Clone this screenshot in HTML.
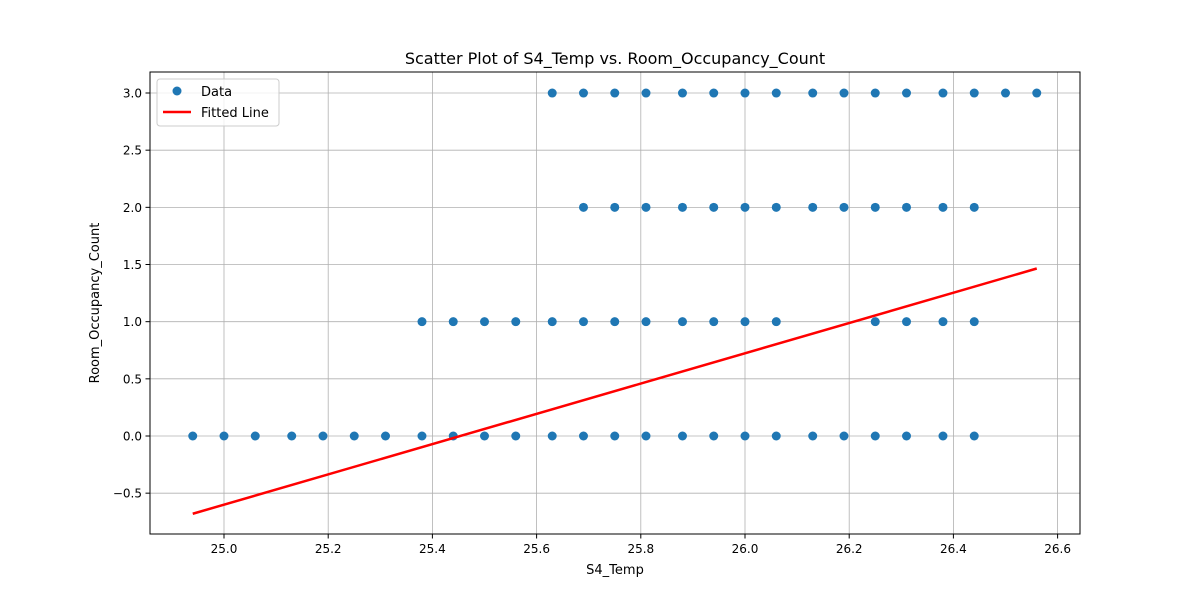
<!DOCTYPE html>
<html><head><meta charset="utf-8"><style>
body{margin:0;background:#fff;font-family:"Liberation Sans","DejaVu Sans",sans-serif}
svg text{font-family:"DejaVu Sans","Liberation Sans",sans-serif;fill:#000}
</style></head><body>
<svg id="chart" width="1200" height="600">
<rect x="0" y="0" width="1200" height="600" fill="#fff"/>
<g id="grid"></g>
<g id="marks"></g>
<g id="fit"></g>
<rect x="150" y="72" width="930" height="462" fill="none" stroke="#000" stroke-width="1"/>
<g id="ticks"></g>
<text x="615" y="64" text-anchor="middle" font-size="16">Scatter Plot of S4_Temp vs. Room_Occupancy_Count</text>
<text x="615" y="574" text-anchor="middle" font-size="13">S4_Temp</text>
<text x="99" y="303" text-anchor="middle" font-size="13" transform="rotate(-90 99 303)">Room_Occupancy_Count</text>
<g>
<rect x="157" y="79" width="122" height="47" rx="3" fill="#fff" fill-opacity="0.8" stroke="#ccc"/>
<circle cx="177" cy="91" r="4.5" fill="#1f77b4"/>
<text x="201" y="96" font-size="13">Data</text>
<line x1="163" y1="112" x2="191" y2="112" stroke="red" stroke-width="2.5"/>
<text x="201" y="117" font-size="13">Fitted Line</text>
</g>
</svg>
<script>
const xTicks=[25.0,25.2,25.4,25.6,25.8,26.0,26.2,26.4,26.6];
const xTickLabels=["25.0","25.2","25.4","25.6","25.8","26.0","26.2","26.4","26.6"];
const yTicks=[-0.5,0,0.5,1,1.5,2,2.5,3];
const yTickLabels=["−0.5","0.0","0.5","1.0","1.5","2.0","2.5","3.0"];
const row3X=[25.63,25.69,25.75,25.81,25.88,25.94,26.00,26.06,26.13,26.19,26.25,26.31,26.38,26.44,26.50,26.56];
const row2X=[25.69,25.75,25.81,25.88,25.94,26.00,26.06,26.13,26.19,26.25,26.31,26.38,26.44];
const row1X=[25.38,25.44,25.50,25.56,25.63,25.69,25.75,25.81,25.88,25.94,26.00,26.06,26.25,26.31,26.38,26.44];
const row0X=[24.94,25.00,25.06,25.13,25.19,25.25,25.31,25.38,25.44,25.50,25.56,25.63,25.69,25.75,25.81,25.88,25.94,26.00,26.06,26.13,26.19,26.25,26.31,26.38,26.44];
const rowY=[3,2,1,0];
const fitX=[24.94,26.56];
const fitY=[-0.68,1.465];
const NS="http://www.w3.org/2000/svg";
const sx=v=>224+(v-25.0)*521;
const sy=v=>436-v*114.33;
function mk(tag,attrs,parent){const e=document.createElementNS(NS,tag);for(const k in attrs)e.setAttribute(k,attrs[k]);parent.appendChild(e);return e;}
const grid=document.getElementById('grid'),ticks=document.getElementById('ticks'),marks=document.getElementById('marks'),fit=document.getElementById('fit');
xTicks.forEach((t,i)=>{const x=sx(t);
let g=mk('line',{x1:x,x2:x,y1:72,y2:534,stroke:'#b0b0b0','stroke-width':0.8},grid);


mk('line',{x1:x,x2:x,y1:534,y2:538.5,stroke:'#000'},ticks);
let tx=mk('text',{x:x,y:553,'text-anchor':'middle','font-size':12},ticks);tx.textContent=xTickLabels[i];

});
yTicks.forEach((t,i)=>{const y=sy(t);
let g=mk('line',{x1:150,x2:1080,y1:y,y2:y,stroke:'#b0b0b0','stroke-width':0.8},grid);


mk('line',{x1:145.5,x2:150,y1:y,y2:y,stroke:'#000'},ticks);
let tx=mk('text',{x:142,y:y+4.5,'text-anchor':'end','font-size':12},ticks);tx.textContent=yTickLabels[i];

});
[row3X,row2X,row1X,row0X].forEach((row,r)=>row.forEach(v=>{
const c=mk('circle',{cx:sx(v),cy:sy(rowY[r]),r:4.5,fill:'#1f77b4'},marks);

}));
const l=mk('line',{x1:sx(fitX[0]),y1:sy(fitY[0]),x2:sx(fitX[1]),y2:sy(fitY[1]),stroke:'red','stroke-width':2.5},fit);


</script>
</body></html>
